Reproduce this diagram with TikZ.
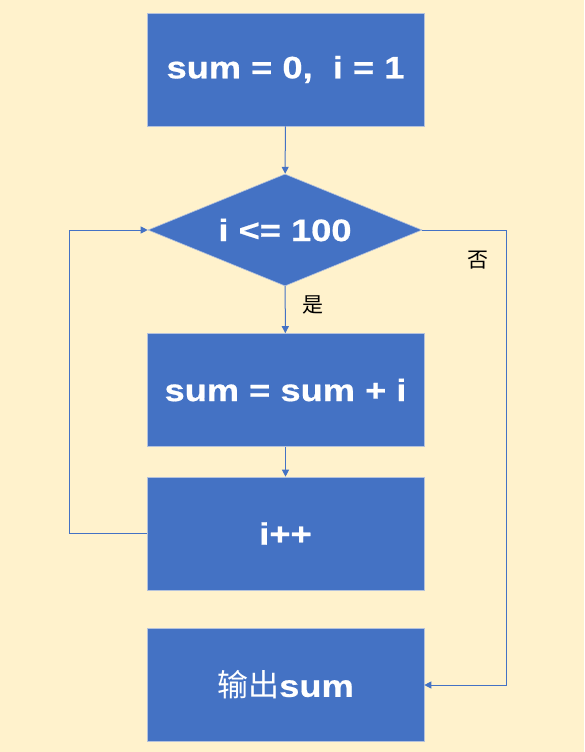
\documentclass[tikz,border=0pt]{standalone}
\usepackage{fontspec}
\setmainfont{Liberation Sans}
\newfontfamily\boxfont{Liberation Sans}[FakeStretch=1.17,BoldFeatures={FakeStretch=1.17,FakeBold=0.6}]
\newfontfamily\cjk{Noto Sans CJK SC}
\usetikzlibrary{arrows.meta,shapes.geometric}
\definecolor{colbg}{HTML}{FFF2CC}
\definecolor{colbox}{HTML}{4472C4}
\definecolor{coledge}{HTML}{B4C2DC}

\begin{document}
\begin{tikzpicture}[
  x=1pt, y=-1pt,
  font=\boxfont\fontsize{31}{36}\selectfont\bfseries,
  proc/.style={rectangle,draw=coledge,fill=colbox,text=white,line width=0.6pt,
               minimum width=277pt,minimum height=113pt,inner sep=0pt},
  test/.style={diamond,draw=coledge,fill=colbox,text=white,line width=0.6pt,
               minimum width=274pt,minimum height=112pt,aspect=2.45,inner sep=0pt},
  flow/.style={-{Triangle[length=7pt,width=7pt]},colbox,line width=1pt},
  tag/.style={font=\cjk\fontsize{21}{24}\selectfont,text=black},
]
  % ---------------- fondo ----------------
  \fill[colbg] (0,0) rectangle (584,752);
  \useasboundingbox (0,0) rectangle (584,752);
  % ---------------- bloques ----------------
  \node[proc] (init) at (285.5,69.5) {sum = 0,~~i = 1};
  \node[test] (cond) at (285,230) {i <= 100};
  \node[proc] (body) at (285.5,390) {sum = sum + i};
  \node[proc] (incr) at (285.5,533.5) {i++};
  \node[proc] (out)  at (285.5,685) {{\cjk\mdseries 输出}sum};
  % ---------------- flechas ----------------
  \draw[flow] (init) -- (cond);
  \draw[flow] (cond) -- (body) node[tag,pos=0.4,right=13pt] {是};
  \draw[flow] (body) -- (incr);
  \coordinate (lt) at (69,230);
  \coordinate (lb) at (69,533.5);
  \draw[flow] (incr.west) -- (lb) -- (lt) -- (cond.west);
  \coordinate (rt) at (506,230);
  \coordinate (rb) at (506,685);
  \draw[flow] (cond.east) -- (rt) -- (rb) -- (out.east);
  \node[tag] (no) at (478,260) {否};
\end{tikzpicture}
\end{document}
